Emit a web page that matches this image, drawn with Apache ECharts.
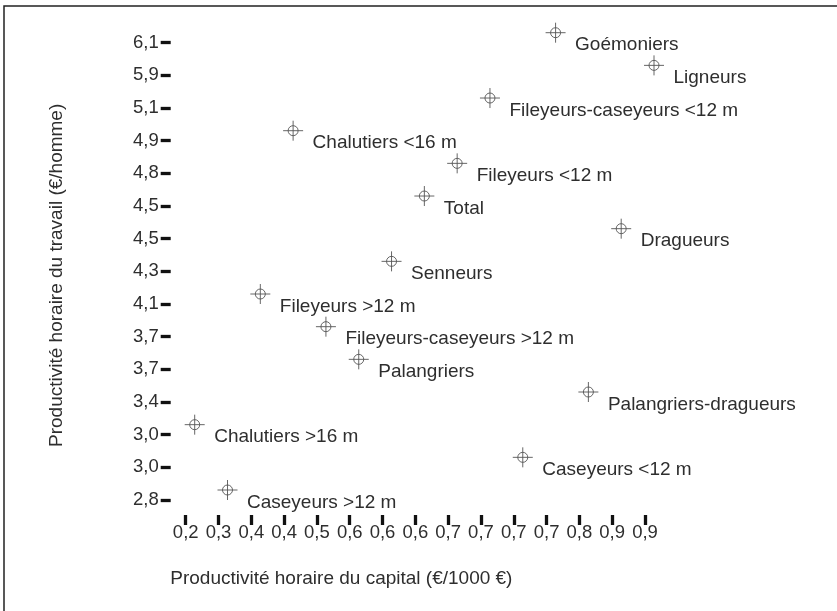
<!DOCTYPE html>
<html>
<head>
<meta charset="utf-8">
<script src="https://cdn.jsdelivr.net/npm/echarts@6/dist/echarts.min.js"></script>
<style>
html,body{margin:0;padding:0;background:#fff;}
#chart{width:837px;height:611px;}
</style>
</head>
<body>
<div id="chart"></div>
<script>
// X-axis tick labels (Productivité horaire du capital, €/1000 €), one per fleet, ascending
const xTickLabels = ['0,2','0,3','0,4','0,4','0,5','0,6','0,6','0,6','0,7','0,7','0,7','0,7','0,8','0,9','0,9'];
// Y-axis tick labels (Productivité horaire du travail, €/homme), one per fleet, top to bottom
const yTickLabels = ['6,1','5,9','5,1','4,9','4,8','4,5','4,5','4,3','4,1','3,7','3,7','3,4','3,0','3,0','2,8'];
// Fleets
const fleets = ['Goémoniers','Ligneurs','Fileyeurs-caseyeurs <12 m','Chalutiers <16 m','Fileyeurs <12 m','Total','Dragueurs','Senneurs','Fileyeurs >12 m','Fileyeurs-caseyeurs >12 m','Palangriers','Palangriers-dragueurs','Chalutiers >16 m','Caseyeurs <12 m','Caseyeurs >12 m'];
// Position of each fleet on the x (capital) scale and y (travail) scale
const fleetX = [11,14,9,3,8,7,13,6,2,4,5,12,0,10,1];
const fleetY = [0,1,2,3,4,5,6,7,8,9,10,11,12,13,14];

const data = fleets.map((n, i) => ({ name: n, value: [fleetX[i], fleetY[i]] }));

const FONT = '"Liberation Sans", Arial, Helvetica, sans-serif';
const TXT = '#2e2e2e';
const chart = echarts.init(document.getElementById('chart'), null, { renderer: 'canvas' });
chart.setOption({
  animation: false,
  backgroundColor: '#fff',
  grid: { left: 185.7, right: 192, top: 42.7, bottom: 111, containLabel: false },
  xAxis: {
    type: 'category',
    data: xTickLabels,
    boundaryGap: false,
    offset: 15,
    axisLine: { show: false },
    axisTick: { show: true, length: 10, lineStyle: { color: '#111', width: 3.3 } },
    axisLabel: { interval: 0, margin: 8, color: TXT, fontSize: 18.5, fontFamily: FONT },
    splitLine: { show: false },
    name: 'Productivité horaire du capital (€/1000 €)',
    nameLocation: 'middle',
    nameGap: 54,
    nameTextStyle: { color: TXT, fontSize: 19, fontFamily: FONT, padding: [0, 148, 0, 0] }
  },
  yAxis: {
    type: 'category',
    data: yTickLabels,
    inverse: true,
    boundaryGap: false,
    offset: 15,
    axisLine: { show: false },
    axisTick: { show: true, length: 10, lineStyle: { color: '#111', width: 3.3 } },
    axisLabel: { interval: 0, margin: 12, color: TXT, fontSize: 18.5, fontFamily: FONT },
    splitLine: { show: false },
    name: 'Productivité horaire du travail (€/homme)',
    nameLocation: 'middle',
    nameGap: 104,
    nameTextStyle: { color: TXT, fontSize: 19, fontFamily: FONT, padding: [0, 8, 0, 0] }
  },
  graphic: [{
    type: 'polyline',
    shape: { points: [[4, 611], [4, 6], [837, 6]] },
    style: { stroke: '#222', lineWidth: 1.5, fill: null },
    silent: true
  }],
  series: [{
    type: 'scatter',
    data: data,
    symbol: 'path://M10,0L10,20M0,10L20,10M15,10A5,5,0,1,1,5,10A5,5,0,1,1,15,10Z',
    symbolSize: 20,
    symbolOffset: [9, -10],
    itemStyle: { color: 'none', borderColor: '#555', borderWidth: 0.9, opacity: 1 },
    label: {
      show: true,
      position: 'right',
      distance: 7,
      offset: [0, 12.5],
      formatter: p => p.name,
      color: TXT,
      fontSize: 19,
      fontFamily: FONT
    },
    emphasis: { disabled: true }
  }]
});
</script>
</body>
</html>
